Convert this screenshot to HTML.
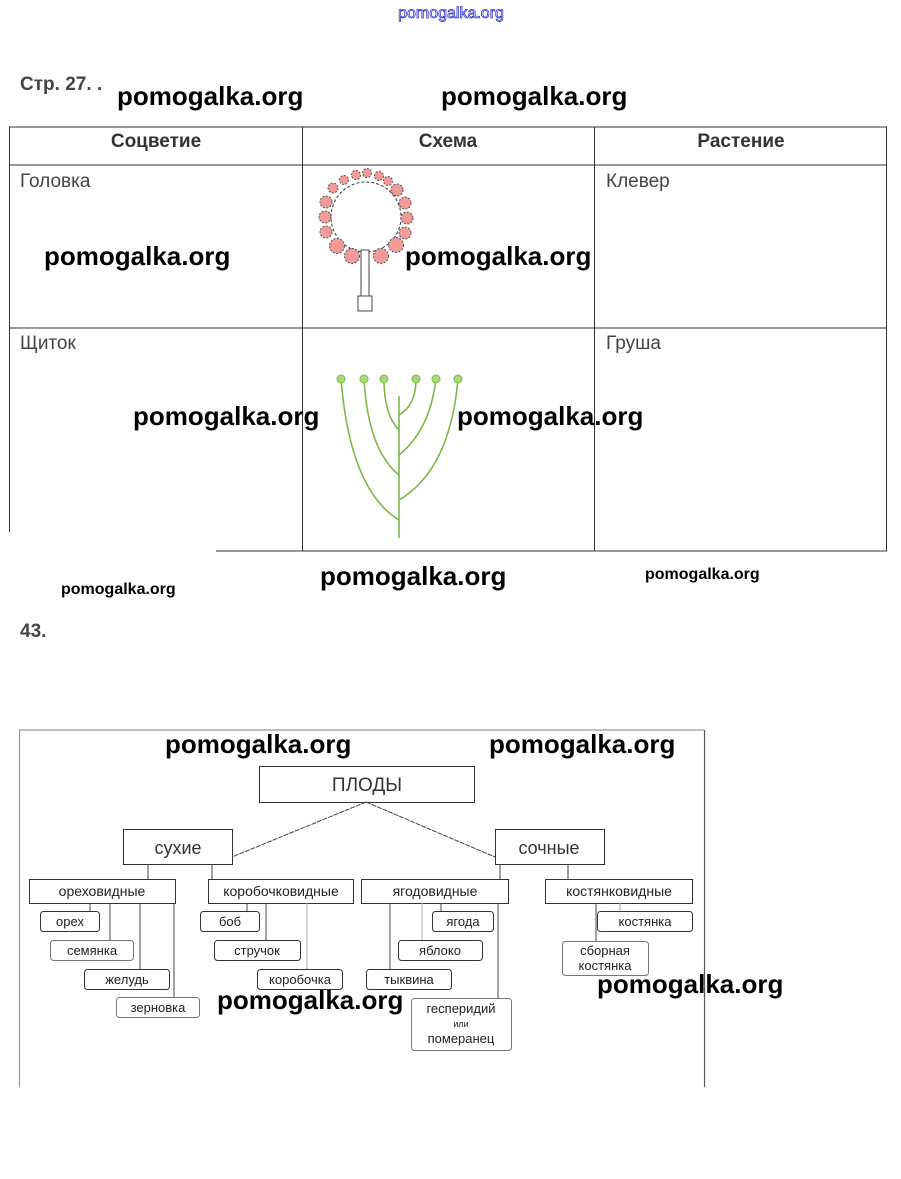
<!DOCTYPE html>
<html><head><meta charset="utf-8"><style>
html,body{margin:0;padding:0;background:#fff;}
svg{display:block}
.wm{font-family:"Liberation Sans",sans-serif;font-weight:bold;font-size:26px;fill:#000}
.wms{font-family:"Liberation Sans",sans-serif;font-weight:bold;font-size:16px;fill:#000}
.th{font-family:"Liberation Sans",sans-serif;font-weight:bold;font-size:19px;fill:#333}
.td{font-family:"Liberation Sans",sans-serif;font-size:19px;fill:#444}
.b{font-family:"Liberation Sans",sans-serif;font-size:14px;fill:#222}
.s{font-family:"Liberation Sans",sans-serif;font-size:13px;fill:#222}
</style></head><body>
<svg width="901" height="1179" viewBox="0 0 901 1179" xmlns="http://www.w3.org/2000/svg">
<text x="451" y="18" text-anchor="middle" font-family="Liberation Sans,sans-serif" font-size="16" fill="#fff" stroke="#33c" stroke-width="0.8">pomogalka.org</text>
<text x="20" y="90" font-family="Liberation Sans,sans-serif" font-weight="bold" font-size="19" fill="#444">Стр. 27. .</text>
<!-- table -->
<g stroke="#333" stroke-width="1" fill="none">
<line x1="9" y1="127" x2="887" y2="127"/>
<line x1="9" y1="165" x2="887" y2="165"/>
<line x1="9" y1="328" x2="887" y2="328"/>
<line x1="216" y1="551" x2="887" y2="551"/>
<line x1="9.5" y1="127" x2="9.5" y2="532"/>
<line x1="302.5" y1="127" x2="302.5" y2="551"/>
<line x1="594.5" y1="127" x2="594.5" y2="551"/>
<line x1="886.5" y1="127" x2="886.5" y2="551"/>
</g>
<text class="th" x="156" y="147" text-anchor="middle">Соцветие</text>
<text class="th" x="448" y="147" text-anchor="middle">Схема</text>
<text class="th" x="741" y="147" text-anchor="middle">Растение</text>
<text class="td" x="20" y="187">Головка</text>
<text class="td" x="606" y="187">Клевер</text>
<text class="td" x="20" y="349">Щиток</text>
<text class="td" x="606" y="349">Груша</text>
<!-- clover -->
<circle cx="366" cy="217" r="35" fill="none" stroke="#333" stroke-dasharray="3,2"/>
<g fill="#f19a9a" stroke="#555" stroke-dasharray="2,1.5" stroke-width="1">
<circle cx="333" cy="188" r="5"/><circle cx="344" cy="180" r="4.5"/><circle cx="356" cy="175" r="4.5"/><circle cx="367" cy="173" r="4.5"/><circle cx="379" cy="176" r="4.5"/><circle cx="388" cy="181" r="4.5"/><circle cx="397" cy="190" r="6"/><circle cx="405" cy="203" r="6"/><circle cx="407" cy="218" r="6"/><circle cx="405" cy="233" r="6"/><circle cx="396" cy="245" r="7.5"/><circle cx="381" cy="256" r="7.5"/><circle cx="352" cy="256" r="7.5"/><circle cx="337" cy="246" r="7.5"/><circle cx="326" cy="232" r="6"/><circle cx="325" cy="217" r="6"/><circle cx="326" cy="202" r="6"/>
</g>
<rect x="361" y="250" width="8" height="46" fill="#fff" stroke="#444"/>
<rect x="358" y="296" width="14" height="15" fill="#fff" stroke="#444"/>
<!-- umbel -->
<g stroke="#7cb84a" stroke-width="1.6" fill="none">
<line x1="399" y1="396" x2="399" y2="538"/>
<path d="M341 379 Q350 490 399 520"/>
<path d="M364 379 Q368 450 399 475"/>
<path d="M384 379 Q384 415 399 430"/>
<path d="M416 379 Q416 405 399 415"/>
<path d="M436 379 Q430 430 399 455"/>
<path d="M458 379 Q450 470 399 500"/>
</g>
<g fill="#a8d878" stroke="#7cb84a" stroke-width="1">
<circle cx="341" cy="379" r="4"/><circle cx="364" cy="379" r="4"/><circle cx="384" cy="379" r="4"/><circle cx="416" cy="379" r="4"/><circle cx="436" cy="379" r="4"/><circle cx="458" cy="379" r="4"/>
</g>
<text x="20" y="637" font-family="Liberation Sans,sans-serif" font-weight="bold" font-size="19" fill="#444">43.</text>
<!-- diagram frame -->
<g stroke="#999" stroke-width="1.2" fill="none">
<line x1="19" y1="730" x2="704" y2="730"/>
<line x1="19.5" y1="730" x2="19.5" y2="1087"/>
<line x1="704.5" y1="730" x2="704.5" y2="1087" stroke="#555"/>
</g>
<g stroke="#333" stroke-width="1" fill="#fff">
<rect x="259.5" y="766.5" width="215" height="36"/>
<rect x="123.5" y="829.5" width="109" height="35"/>
<rect x="495.5" y="829.5" width="109" height="35"/>
<rect x="29.5" y="879.5" width="146" height="24"/>
<rect x="208.5" y="879.5" width="145" height="24"/>
<rect x="361.5" y="879.5" width="147" height="24"/>
<rect x="545.5" y="879.5" width="147" height="24"/>
</g>
<g stroke="#444" stroke-width="1" fill="none">
<line x1="366" y1="802" x2="232" y2="857" stroke-dasharray="5,1"/>
<line x1="366" y1="802" x2="495" y2="857" stroke-dasharray="5,1"/>
<line x1="148" y1="864" x2="148" y2="879"/>
<line x1="212" y1="864" x2="212" y2="879"/>
<line x1="500" y1="864" x2="500" y2="879"/>
<line x1="568" y1="864" x2="568" y2="879"/>
<line x1="90" y1="903" x2="90" y2="911"/>
<line x1="110" y1="903" x2="110" y2="940"/>
<line x1="140" y1="903" x2="140" y2="969"/>
<line x1="174" y1="903" x2="174" y2="997"/>
<line x1="247" y1="903" x2="247" y2="911"/>
<line x1="266" y1="903" x2="266" y2="940"/>
<line x1="307" y1="903" x2="307" y2="969" stroke="#aaa"/>
<line x1="390" y1="903" x2="390" y2="969"/>
<line x1="422" y1="903" x2="422" y2="940" stroke="#aaa"/>
<line x1="441" y1="903" x2="441" y2="911"/>
<line x1="498" y1="903" x2="498" y2="998"/>
<line x1="596" y1="903" x2="596" y2="941"/>
<line x1="620" y1="903" x2="620" y2="911" stroke="#aaa"/>
</g>
<g stroke="#333" stroke-width="1" fill="#fff">
<rect x="40.5" y="911.5" width="59" height="20" rx="3"/>
<rect x="50.5" y="940.5" width="83" height="20" rx="3" stroke="#777"/>
<rect x="84.5" y="969.5" width="85" height="20" rx="3"/>
<rect x="116.5" y="997.5" width="83" height="20" rx="3" stroke="#777"/>
<rect x="200.5" y="911.5" width="59" height="20" rx="3"/>
<rect x="214.5" y="940.5" width="86" height="20" rx="3"/>
<rect x="257.5" y="969.5" width="85" height="20" rx="3"/>
<rect x="432.5" y="911.5" width="61" height="20" rx="3"/>
<rect x="398.5" y="940.5" width="84" height="20" rx="3"/>
<rect x="366.5" y="969.5" width="85" height="20" rx="3"/>
<rect x="411.5" y="998.5" width="100" height="52" rx="3" stroke="#777"/>
<rect x="597.5" y="911.5" width="95" height="20" rx="3"/>
<rect x="562.5" y="941.5" width="86" height="34" rx="3" stroke="#777"/>
</g>
<text x="367" y="791" text-anchor="middle" font-family="Liberation Sans,sans-serif" font-size="19" fill="#333">ПЛОДЫ</text>
<text x="178" y="854" text-anchor="middle" font-family="Liberation Sans,sans-serif" font-size="18" fill="#333">сухие</text>
<text x="549" y="854" text-anchor="middle" font-family="Liberation Sans,sans-serif" font-size="18" fill="#333">сочные</text>
<text class="b" x="102" y="896" text-anchor="middle">ореховидные</text>
<text class="b" x="281" y="896" text-anchor="middle">коробочковидные</text>
<text class="b" x="435" y="896" text-anchor="middle">ягодовидные</text>
<text class="b" x="619" y="896" text-anchor="middle">костянковидные</text>
<text class="s" x="70" y="926" text-anchor="middle">орех</text>
<text class="s" x="92" y="955" text-anchor="middle">семянка</text>
<text class="s" x="127" y="984" text-anchor="middle">желудь</text>
<text class="s" x="158" y="1012" text-anchor="middle">зерновка</text>
<text class="s" x="230" y="926" text-anchor="middle">боб</text>
<text class="s" x="257" y="955" text-anchor="middle">стручок</text>
<text class="s" x="300" y="984" text-anchor="middle">коробочка</text>
<text class="s" x="463" y="926" text-anchor="middle">ягода</text>
<text class="s" x="440" y="955" text-anchor="middle">яблоко</text>
<text class="s" x="409" y="984" text-anchor="middle">тыквина</text>
<text class="s" x="461" y="1013" text-anchor="middle">гесперидий</text>
<text x="461" y="1027" text-anchor="middle" font-family="Liberation Sans,sans-serif" font-size="9" fill="#222">или</text>
<text class="s" x="461" y="1043" text-anchor="middle">померанец</text>
<text class="s" x="645" y="926" text-anchor="middle">костянка</text>
<text class="s" x="605" y="955" text-anchor="middle">сборная</text>
<text class="s" x="605" y="970" text-anchor="middle">костянка</text>
<!-- watermarks -->
<text class="wm" x="117" y="105">pomogalka.org</text>
<text class="wm" x="441" y="105">pomogalka.org</text>
<text class="wm" x="44" y="265">pomogalka.org</text>
<text class="wm" x="405" y="265">pomogalka.org</text>
<text class="wm" x="133" y="425">pomogalka.org</text>
<text class="wm" x="457" y="425">pomogalka.org</text>
<text class="wm" x="320" y="585">pomogalka.org</text>
<text class="wms" x="61" y="594">pomogalka.org</text>
<text class="wms" x="645" y="579">pomogalka.org</text>
<text class="wm" x="165" y="753">pomogalka.org</text>
<text class="wm" x="489" y="753">pomogalka.org</text>
<text class="wm" x="217" y="1009">pomogalka.org</text>
<text class="wm" x="597" y="993">pomogalka.org</text>
</svg>
</body></html>
